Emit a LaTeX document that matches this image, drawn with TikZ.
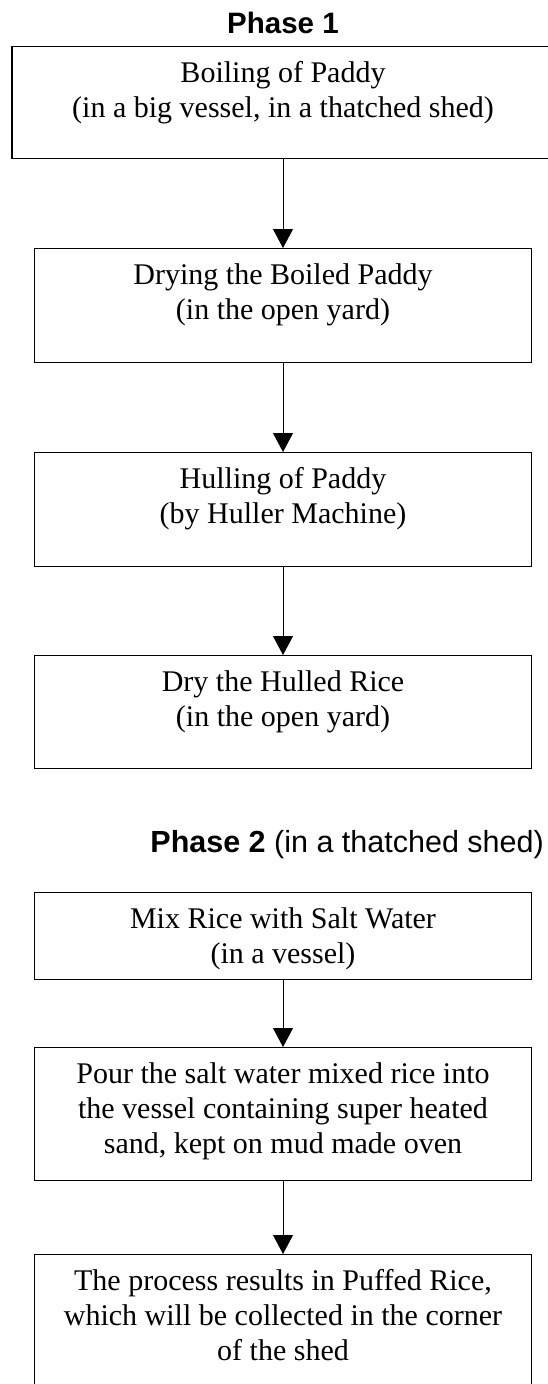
\documentclass[tikz,border=0pt]{standalone}
\usepackage{fontspec}
\setmainfont{Liberation Serif}
\newfontfamily\phasefont{Liberation Sans}
\usetikzlibrary{arrows.meta}
\begin{document}
\begin{tikzpicture}[x=1pt,y=1pt,
  stepbox/.style={draw=black, line width=1.3pt, minimum width=497pt, inner sep=0pt, anchor=north},
  boxtext/.style={align=center, inner sep=0pt, anchor=north, yshift=-15pt,
    font=\fontsize{30}{35}\selectfont},
  phase/.style={inner sep=0pt, font=\phasefont\fontsize{29.5}{34}\selectfont},
  flow/.style={line width=1pt, -{Triangle[width=20pt,length=19pt]}}]
\useasboundingbox (0,0) rectangle (548,-1384);

\node[phase, anchor=base] (p1) at (283,-33) {\bfseries Phase 1};

\node[stepbox, minimum width=542pt, minimum height=112pt,
  label={[boxtext]north:{Boiling of Paddy\\(in a big vessel, in a thatched shed)}}]
  (b1) at (283,-46) {};
\node[stepbox, minimum height=114pt,
  label={[boxtext]north:{Drying the Boiled Paddy\\(in the open yard)}}]
  (b2) at (283,-248) {};
\node[stepbox, minimum height=114pt,
  label={[boxtext]north:{Hulling of Paddy\\(by Huller Machine)}}]
  (b3) at (283,-452) {};
\node[stepbox, minimum height=113pt,
  label={[boxtext]north:{Dry the Hulled Rice\\(in the open yard)}}]
  (b4) at (283,-655) {};

\node[phase, anchor=base east, font=\phasefont\fontsize{30.5}{35}\selectfont] (p2) at (544,-852) {\bfseries Phase 2\mdseries{} (in a thatched shed)};

\node[stepbox, minimum height=87pt,
  label={[boxtext]north:{Mix Rice with Salt Water\\(in a vessel)}}]
  (b5) at (283,-892) {};
\node[stepbox, minimum height=133pt,
  label={[boxtext]north:{Pour the salt water mixed rice into\\the vessel containing super heated\\sand, kept on mud made oven}}]
  (b6) at (283,-1047) {};
\node[stepbox, minimum height=150pt,
  label={[boxtext]north:{The process results in Puffed Rice,\\which will be collected in the corner\\of the shed}}]
  (b7) at (283,-1254) {};

\draw[flow] (b1.south) -- (b2.north);
\draw[flow] (b2.south) -- (b3.north);
\draw[flow] (b3.south) -- (b4.north);
\draw[flow] (b5.south) -- (b6.north);
\draw[flow] (b6.south) -- (b7.north);
\end{tikzpicture}
\end{document}
